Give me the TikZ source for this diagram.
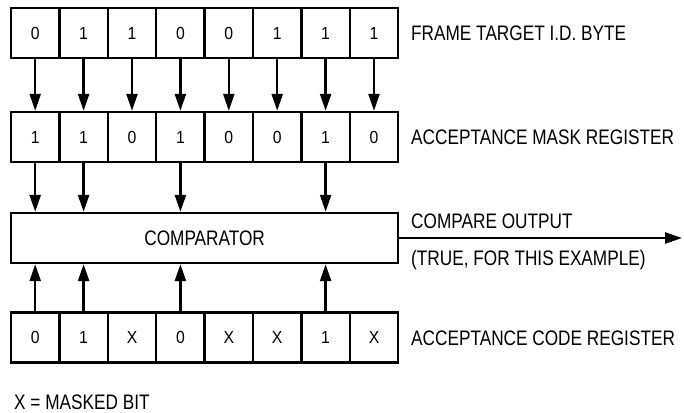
\documentclass[tikz,border=0pt]{standalone}
\usepackage{fontspec}
\setmainfont{Liberation Sans}
\newfontfamily\labelfont[FakeStretch=0.82]{Liberation Sans}
\newfontfamily\bitfont[FakeStretch=0.9]{Liberation Sans}
\usetikzlibrary{arrows.meta}

\begin{document}
\begin{tikzpicture}[x=1pt,y=-1pt,
  bitcell/.style={draw, line width=2.4pt, minimum width=48.4pt, minimum height=50pt,
    inner sep=0pt, font=\bitfont\fontsize{17.5}{20}\selectfont},
  bigbox/.style={draw, line width=2.4pt, minimum width=387pt, minimum height=50pt,
    inner sep=0pt, font=\labelfont\fontsize{21}{24}\selectfont},
  lab/.style={anchor=base west, inner sep=0pt, font=\labelfont\fontsize{21}{24}\selectfont},
  flow/.style={line width=2.4pt, -{Triangle[length=17pt, width=11pt]}}]

\useasboundingbox (0,0) rectangle (684,412);

% the three 8-bit registers
\foreach \b [count=\i] in {0,1,1,0,0,1,1,1}
  \node[bitcell] (t\i) at ({11+48.4*(\i-0.5)},33) {\b};
\foreach \b [count=\i] in {1,1,0,1,0,0,1,0}
  \node[bitcell] (m\i) at ({11+48.4*(\i-0.5)},137) {\b};
\foreach \b [count=\i] in {0,1,X,0,X,X,1,X}
  \node[bitcell] (c\i) at ({11+48.4*(\i-0.5)},337.5) {\b};

% comparator
\node[bigbox] (cmp) at (204.6,238) {COMPARATOR};

% target byte into mask register
\foreach \i in {1,...,8}
  \draw[flow] (t\i.south) -- (m\i.north);

% unmasked bits into the comparator, from above and below
\foreach \i in {1,2,4,7} {
  \draw[flow] (m\i.south) -- (m\i.south |- cmp.north);
  \draw[flow] (c\i.north) -- (c\i.north |- cmp.south);
}

% comparator output
\coordinate (out) at (682,238);
\draw[flow] (cmp.east) -- (out);

% labels
\node[lab] (lt) at (411,40.5) {FRAME TARGET I.D. BYTE};
\node[lab] (lm) at (411,144.5) {ACCEPTANCE MASK REGISTER};
\node[lab] (lc) at (411,345) {ACCEPTANCE CODE REGISTER};
\node[lab] (lo1) at (411,228) {COMPARE OUTPUT};
\node[lab] (lo2) at (411,265) {(TRUE, FOR THIS EXAMPLE)};
\node[lab] (lx) at (14,409) {X = MASKED BIT};
\end{tikzpicture}
\end{document}
